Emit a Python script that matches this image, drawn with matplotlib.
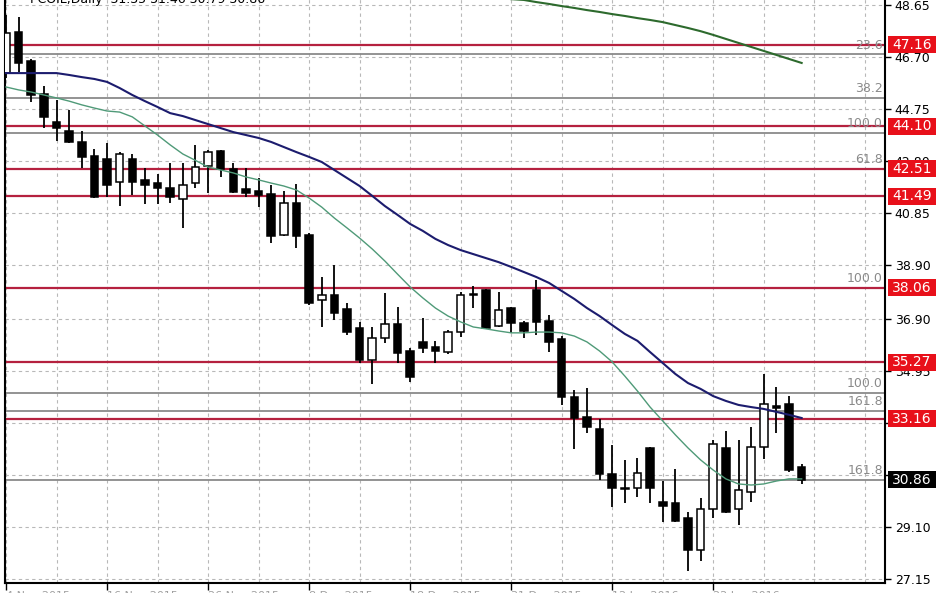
import matplotlib
matplotlib.use('Agg')
import matplotlib.pyplot as plt
import matplotlib.ticker as pltticker
from matplotlib.patches import Rectangle
import numpy as np

# daily candles, oldest first
opens = [46.10, 47.64, 46.55, 45.32, 44.27, 43.93, 43.52, 42.99, 42.88, 42.02,
         42.88, 42.10, 41.98, 41.80, 41.38, 41.98, 42.62, 43.18, 42.51, 41.76,
         41.68, 41.57, 40.04, 41.23, 40.04, 37.60, 37.79, 37.26, 36.55, 35.35,
         36.18, 36.70, 35.69, 36.03, 35.84, 35.65, 36.40, 37.80, 37.98, 36.63,
         37.30, 36.74, 37.98, 36.82, 36.14, 33.97, 33.22, 32.77, 31.08, 30.54,
         30.56, 32.06, 30.04, 30.00, 29.44, 28.24, 29.77, 32.06, 29.77, 30.41,
         32.10, 33.63, 33.71, 31.35]
highs = [48.28, 48.20, 46.63, 45.62, 45.09, 44.72, 43.93, 43.26, 43.48, 43.14,
         43.07, 42.55, 42.32, 42.73, 42.73, 43.41, 43.22, 43.22, 42.73, 42.55,
         42.17, 41.91, 41.68, 41.95, 40.11, 38.46, 38.91, 37.49, 36.78, 36.59,
         37.86, 37.34, 35.80, 36.93, 36.07, 36.48, 37.90, 38.13, 38.01, 37.90,
         37.32, 36.82, 38.35, 37.04, 36.25, 34.23, 34.31, 33.14, 32.17, 31.61,
         31.68, 32.08, 30.82, 31.27, 29.66, 30.19, 32.36, 32.70, 32.36, 32.85,
         34.83, 34.34, 34.01, 31.46]
lows = [45.92, 46.14, 45.02, 44.04, 43.56, 43.48, 42.55, 41.42, 41.46, 41.12,
        41.53, 41.20, 41.20, 41.23, 40.30, 41.80, 41.61, 42.21, 41.61, 41.46,
        41.08, 39.74, 40.00, 39.55, 37.41, 36.59, 36.85, 36.29, 35.24, 34.46,
        35.99, 35.24, 34.53, 35.62, 35.24, 35.58, 36.22, 37.30, 36.52, 36.59,
        36.37, 36.18, 36.29, 35.65, 33.67, 32.02, 32.62, 30.86, 29.85, 30.00,
        30.22, 30.00, 29.29, 29.29, 27.45, 27.83, 29.44, 29.62, 29.17, 30.04,
        31.65, 32.62, 31.16, 30.71]
closes = [47.60, 46.48, 45.28, 44.46, 44.04, 43.52, 42.96, 41.46, 41.91, 43.07,
          42.02, 41.91, 41.80, 41.46, 41.91, 42.58, 43.14, 42.51, 41.65, 41.61,
          41.53, 40.00, 41.23, 40.00, 37.49, 37.79, 37.11, 36.40, 35.35, 36.18,
          36.70, 35.62, 34.72, 35.80, 35.69, 36.40, 37.79, 37.83, 36.55, 37.23,
          36.74, 36.44, 36.78, 36.03, 33.97, 33.18, 32.85, 31.08, 30.56, 30.52,
          31.12, 30.56, 29.89, 29.32, 28.24, 29.77, 32.21, 29.66, 30.49, 32.10,
          33.71, 33.56, 31.23, 30.86]

# moving averages
ma_slow = [46.10, 46.10, 46.10, 46.10, 46.10, 46.03, 45.95, 45.88, 45.77, 45.54,
           45.28, 45.05, 44.83, 44.60, 44.49, 44.34, 44.19, 44.04, 43.89, 43.78,
           43.67, 43.52, 43.33, 43.14, 42.96, 42.77, 42.47, 42.17, 41.87, 41.50,
           41.12, 40.79, 40.45, 40.19, 39.89, 39.66, 39.47, 39.32, 39.17, 39.02,
           38.84, 38.65, 38.46, 38.24, 37.94, 37.64, 37.30, 37.00, 36.66, 36.33,
           36.07, 35.65, 35.24, 34.83, 34.49, 34.27, 34.00, 33.82, 33.67, 33.59,
           33.52, 33.41, 33.30, 33.18]
ma_fast = [45.58, 45.47, 45.39, 45.28, 45.17, 45.05, 44.91, 44.79, 44.68, 44.64,
           44.46, 44.12, 43.78, 43.41, 43.07, 42.83, 42.58, 42.47, 42.36, 42.21,
           42.10, 41.98, 41.87, 41.72, 41.42, 41.08, 40.67, 40.30, 39.92, 39.51,
           39.06, 38.57, 38.09, 37.68, 37.30, 37.00, 36.78, 36.59, 36.52, 36.44,
           36.37, 36.37, 36.40, 36.40, 36.37, 36.25, 36.03, 35.69, 35.28, 34.75,
           34.19, 33.59, 33.07, 32.55, 32.06, 31.61, 31.23, 30.90, 30.71, 30.67,
           30.71, 30.82, 30.90, 30.90]
ma_long_start = 40
ma_long = [48.87, 48.84, 48.76, 48.69, 48.61, 48.54, 48.46, 48.39, 48.31, 48.24,
           48.16, 48.09, 48.01, 47.90, 47.79, 47.67, 47.53, 47.38, 47.23, 47.08,
           46.93, 46.78, 46.63, 46.48]

red_levels = [47.16, 44.10, 42.51, 41.49, 38.06, 35.27, 33.16]
fib_levels = [46.80, 45.17, 43.86, 42.51, 38.06, 34.12, 33.45, 30.86]
fib_labels = ['23.6', '38.2', '100.0', '61.8', '100.0', '100.0', '161.8', '161.8']
last_price = 30.86
price_ticks = [48.65, 46.70, 44.75, 42.80, 40.85, 38.90, 36.90, 34.95, 33.00, 31.05, 29.10, 27.15]
hidden_ticks = [33.00, 31.05]  # covered by the price boxes
date_labels = ['4 Nov 2015', '16 Nov 2015', '26 Nov 2015', '8 Dec 2015',
               '18 Dec 2015', '31 Dec 2015', '12 Jan 2016', '22 Jan 2016']
title = 'PCOIL,Daily  31.35 31.46 30.79 30.86'

fig = plt.figure(figsize=(9.48, 5.93), dpi=100)
ax = fig.add_axes([5/948, 10/593, 880/948, 598/593])
ax.set_ylim(27.00, 49.40)
ax.set_xlim(-0.08, 69.6)

o = np.array(opens); h = np.array(highs); l = np.array(lows); c = np.array(closes)
x = np.arange(len(o))
up = c >= o
bottom = np.minimum(o, c)
height = np.maximum(np.abs(c - o), 0.04)

ax.vlines(x, l, h, color='black', lw=1.3, zorder=3)
ax.bar(x[up], height[up], 0.6, bottom=bottom[up], color='white', edgecolor='black', lw=1.1, zorder=4)
ax.bar(x[~up], height[~up], 0.6, bottom=bottom[~up], color='black', edgecolor='black', lw=1.1, zorder=4)

ax.plot(x, ma_fast, color='#4f9a78', lw=1.0, zorder=5)
ax.plot(x, ma_slow, color='#1c1c6e', lw=1.5, zorder=5)
ax.plot(x[ma_long_start:], ma_long, color='#2d6a2d', lw=1.5, zorder=5)

for lvl in fib_levels:
	ax.axhline(lvl, color='#8a8a8a', lw=1.3, zorder=1.8)
for lvl in red_levels:
	ax.axhline(lvl, color='#b5213f', lw=1.6, zorder=2)

for lvl, lab in zip(fib_levels, fib_labels):
	ax.text(0.9977, lvl + 0.1, lab, transform=ax.get_yaxis_transform(), ha='right', va='bottom',
			fontsize=9, color='#8a8a8a', zorder=2.2)

# grid
ax.set_yticks(price_ticks)
ax.set_yticklabels(['' if v in hidden_ticks else '%.2f' % v for v in price_ticks])
ax.yaxis.tick_right()
ax.yaxis.grid(True, color='#b8b8b8', linestyle=(0, (3, 3)), lw=0.8)
ax.set_xticks(np.arange(0, 57, 8))
ax.set_xticklabels(date_labels)
plt.setp(ax.xaxis.get_majorticklabels(), ha='left', color='#a0a0a0', fontsize=8)
ax.xaxis.set_minor_locator(pltticker.MultipleLocator(4))
ax.xaxis.grid(True, which='both', color='#b8b8b8', linestyle=(0, (3, 3)), lw=0.8)
ax.set_axisbelow(True)
ax.tick_params(axis='y', direction='out', length=4, width=1, labelsize=9, pad=3)
ax.tick_params(axis='x', which='major', direction='out', length=5, width=1, pad=1)
ax.tick_params(axis='x', which='minor', length=0)

for side in ['left', 'right', 'bottom']:
	ax.spines[side].set_color('black')
	ax.spines[side].set_linewidth(1.5)
ax.spines['top'].set_visible(False)

# price boxes on the right scale
trans = ax.get_yaxis_transform()
bw = 48/880
bh = 17/26.7
for lvl in red_levels + [last_price]:
	fc = 'black' if lvl == last_price else '#e8101a'
	ax.add_patch(Rectangle((1.0034, lvl - bh/2), bw, bh, transform=trans, fc=fc, ec='none',
						   clip_on=False, zorder=10))
	ax.text(1.0034 + bw/2, lvl, '%.2f' % lvl, transform=trans, ha='center', va='center',
			fontsize=10, color='white', clip_on=False, zorder=11)

fig.text(30/948, 1 - 3/593, title, va='baseline', ha='left', fontsize=9)

plt.savefig('out.png', dpi=100)
